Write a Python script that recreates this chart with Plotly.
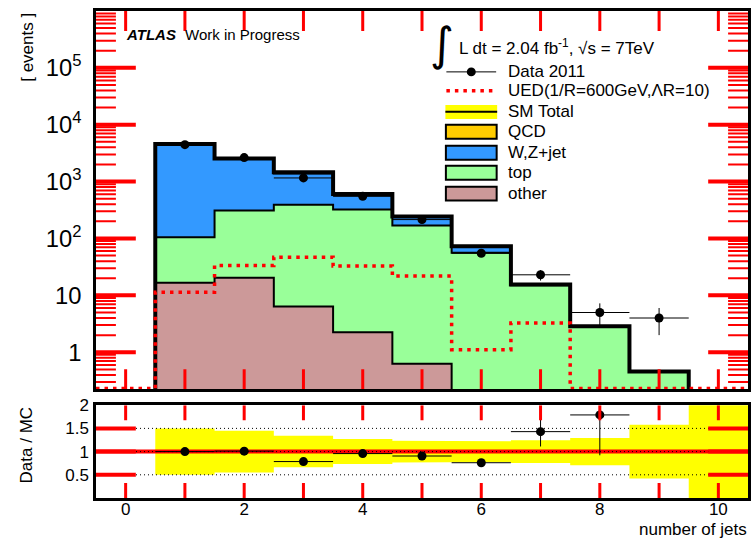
import numpy as np
import plotly.graph_objects as go

# ---------------- data ----------------
bin_centers = [0, 1, 2, 3, 4, 5, 6, 7, 8, 9, 10]
other = [0, 16.7, 20.4, 6.4, 2.24, 0.63, 0, 0, 0, 0, 0]
top = [0, 88, 290, 384, 320, 168, 56, 15.0, 2.8, 0.45, 0]
wzjet = [0, 4470, 2250, 1000, 286, 74, 17, 0.6, 0.06, 0.01, 0]
qcd = [0, 0, 0, 65, 0, 0, 0, 0, 0, 0, 0]
ued = [0, 11.3, 33.6, 47, 32.7, 21.8, 1.11, 3.27, 0, 0, 0]

data_x = [1, 2, 3, 4, 5, 6, 7, 8, 9]
data_y = [4460, 2640, 1160, 551, 215, 55, 23, 5, 4]

ratio_x = [1, 2, 3, 4, 5, 6, 7, 8]
ratio_y = [1.0, 1.01, 0.785, 0.957, 0.905, 0.76, 1.43, 1.79]
ratio_err_up = [0.03, 0.03, 0.03, 0.03, 0.03, 0.04, 0.32, 0.05]
ratio_err_dn = [0.03, 0.03, 0.04, 0.03, 0.03, 0.04, 0.32, 0.87]
band_half = [0, 0.50, 0.45, 0.34, 0.27, 0.235, 0.225, 0.245, 0.295, 0.58, 1.5]
ratio_grid = [0.5, 1.0, 1.5]

x_ticks = list(range(0, 11))
x_minor_ticks = [k + 0.5 for k in range(-1, 11)]
x_ticktext = ["0", "", "2", "", "4", "", "6", "", "8", "", "10"]
main_major_ticks = [1, 10, 100, 1e3, 1e4, 1e5]
main_minor_ticks = [k * 10.0 ** n for n in range(-1, 6) for k in range(2, 10)]
ratio_ticks = [0.5, 1, 1.5, 2]
ratio_ticktext = ["0.5", "1", "1.5", "2"]

c_qcd = "#ffcc00"
c_wz = "#3399ff"
c_top = "#99ff99"
c_other = "#cc9999"
c_band = "#ffff00"

FONT = "Liberation Sans, Arial, Helvetica, sans-serif"

W, H = 753, 539
ML, MR, MT, MB = 96, 2, 10, 41
PW, PH = W - ML - MR, H - MT - MB
XLO, XHI = -0.5, 10.5
YLO, YHI = np.log10(0.224), 6.0
RLO, RHI = 0.0, 2.0


def PX(px):
    return (px - ML) / PW


def PY(py):
    return (H - MB - py) / PH


MAIN_DOM = [PY(389), 1.0]
RATIO_DOM = [0.0, PY(405)]
px_per_x = PW / (XHI - XLO)
px_per_dec = PH * (MAIN_DOM[1] - MAIN_DOM[0]) / (YHI - YLO)
px_per_r = PH * (RATIO_DOM[1] - RATIO_DOM[0]) / (RHI - RLO)

centers = np.array(bin_centers, dtype=float)
lo_edges = centers - 0.5
hi_edges = centers + 0.5


def step_xy(vals, first, last, floor):
    xs = [lo_edges[first]]
    ys = [floor]
    for i in range(first, last + 1):
        v = vals[i] if vals[i] > 0 else floor
        xs += [lo_edges[i], hi_edges[i]]
        ys += [v, v]
    xs.append(hi_edges[last])
    ys.append(floor)
    return xs, ys


cum_other = np.array(other, dtype=float)
cum_top = cum_other + np.array(top)
cum_wz = cum_top + np.array(wzjet)
cum_all = cum_wz + np.array(qcd)

fig = go.Figure()

FLOOR = 1e-2
layers = [(cum_all, c_qcd), (cum_wz, c_wz), (cum_top, c_top), (cum_other, c_other)]
for vals, col in layers:
    xs, ys = step_xy(vals, 1, 10, FLOOR)
    fig.add_trace(go.Scatter(x=xs, y=ys, xaxis="x2", yaxis="y2", mode="lines",
                             fill="toself", fillcolor=col,
                             line=dict(color="black", width=2), hoverinfo="skip",
                             showlegend=False))

xs, ys = step_xy(cum_all, 1, 10, FLOOR)
fig.add_trace(go.Scatter(x=xs, y=ys, xaxis="x2", yaxis="y2", mode="lines",
                         line=dict(color="black", width=4), showlegend=False))

xs, ys = step_xy(ued, 0, 10, 10 ** -0.635)
fig.add_trace(go.Scatter(x=xs[1:-1], y=ys[1:-1], xaxis="x2", yaxis="y2", mode="lines",
                         line=dict(color="red", width=3.5, dash="3.5px,5px"),
                         showlegend=False))

fig.add_trace(go.Scatter(x=data_x, y=data_y, xaxis="x2", yaxis="y2", mode="markers",
                         marker=dict(color="black", size=9),
                         error_y=dict(type="data", array=list(np.sqrt(data_y)),
                                      color="black", thickness=1, width=0),
                         error_x=dict(type="constant", value=0.5, color="black",
                                      thickness=1, width=0),
                         showlegend=False))

ux, uy = [], []
for i in range(1, 11):
    ux += [lo_edges[i], hi_edges[i]]
    uy += [1 + band_half[i], 1 + band_half[i]]
lx, ly = [], []
for i in range(10, 0, -1):
    lx += [hi_edges[i], lo_edges[i]]
    ly += [1 - band_half[i], 1 - band_half[i]]
fig.add_trace(go.Scatter(x=ux + lx, y=uy + ly, mode="lines", fill="toself",
                         fillcolor=c_band, line=dict(width=0, color=c_band),
                         showlegend=False))
fig.add_trace(go.Scatter(x=[XLO, XHI], y=[1, 1], mode="lines",
                         line=dict(color="red", width=4), showlegend=False))
for g in ratio_grid:
    fig.add_trace(go.Scatter(x=[XLO, XHI], y=[g, g], mode="lines",
                             line=dict(color="black", width=1, dash="1px,3px"),
                             showlegend=False))
fig.add_trace(go.Scatter(x=ratio_x, y=ratio_y, mode="markers",
                         marker=dict(color="black", size=9),
                         error_y=dict(type="data", array=ratio_err_up,
                                      arrayminus=ratio_err_dn, symmetric=False,
                                      color="black", thickness=1, width=0),
                         error_x=dict(type="constant", value=0.5, color="black",
                                      thickness=1, width=0),
                         showlegend=False))


def side_ticks(vals, len_px, lo, hi, vmin, vmax):
    d = len_px / px_per_x
    xs, ys = [], []
    for v in vals:
        if vmin < v < vmax:
            xs += [lo, lo + d, None, hi - d, hi, None]
            ys += [v, v, None, v, v, None]
    return xs, ys


def tb_ticks_log(vals, len_px):
    d = len_px / px_per_dec
    xs, ys = [], []
    for v in vals:
        if XLO < v < XHI:
            xs += [v, v, None, v, v, None]
            ys += [10 ** YLO, 10 ** (YLO + d), None, 10 ** (YHI - d), 10 ** YHI, None]
    return xs, ys


def tb_ticks_lin(vals, len_px):
    d = len_px / px_per_r
    xs, ys = [], []
    for v in vals:
        if XLO < v < XHI:
            xs += [v, v, None, v, v, None]
            ys += [RLO, RLO + d, None, RHI - d, RHI, None]
    return xs, ys


# diagnostic: exaggerated red ticks
tick_specs = [
    (side_ticks(main_major_ticks, 40, XLO, XHI, 10 ** YLO, 10 ** YHI), "x2", "y2", 4),
    (side_ticks(main_minor_ticks, 20, XLO, XHI, 10 ** YLO, 10 ** YHI), "x2", "y2", 2),
    (tb_ticks_log(x_ticks, 20), "x2", "y2", 3),
    (side_ticks(ratio_ticks, 40, XLO, XHI, RLO, RHI), "x", "y", 4),
    (tb_ticks_lin(x_ticks, 15), "x", "y", 3),
]
for (txs, tys), xa, ya, lw in tick_specs:
    fig.add_trace(go.Scatter(x=txs, y=tys, xaxis=xa, yaxis=ya, mode="lines",
                             line=dict(color="red", width=lw), hoverinfo="skip",
                             showlegend=False))

axis_common = dict(showline=True, linecolor="black", mirror=True, ticks="",
                   zeroline=False, showgrid=False)

fig.update_layout(
    width=W, height=H, margin=dict(l=ML, r=MR, t=MT, b=MB),
    paper_bgcolor="white", plot_bgcolor="white",
    font=dict(family=FONT, color="black"),
    xaxis=dict(**axis_common, range=[XLO, XHI], anchor="y", linewidth=2.5,
               tickmode="array", tickvals=x_ticks, ticktext=x_ticktext,
               tickfont=dict(size=17), ticklabelstandoff=-6),
    yaxis=dict(**axis_common, range=[RLO, RHI], domain=RATIO_DOM, anchor="x",
               linewidth=2.5, tickmode="array", tickvals=ratio_ticks,
               ticktext=ratio_ticktext, tickfont=dict(size=17), ticklabelstandoff=1),
    xaxis2=dict(**axis_common, range=[XLO, XHI], anchor="y2", matches="x",
                linewidth=2.5, showticklabels=False),
    yaxis2=dict(**axis_common, type="log", range=[YLO, YHI - 0.001],
                domain=MAIN_DOM, anchor="x2", linewidth=2.5,
                tickmode="linear", tick0=0, dtick=1, exponentformat="power",
                tickfont=dict(size=19), ticklabelstandoff=8),
)

ann = []
shapes = []
ann.append(dict(text="[ events ]", xref="paper", yref="paper", x=PX(27), y=PY(10),
                xanchor="center", yanchor="top", textangle=-90, showarrow=False,
                font=dict(size=17)))
ann.append(dict(text="Data / MC", xref="paper", yref="paper", x=PX(26), y=PY(445),
                xanchor="center", yanchor="middle", textangle=-90, showarrow=False,
                font=dict(size=17)))
ann.append(dict(text="number of jets", xref="paper", yref="paper", x=PX(752), y=PY(530),
                xanchor="right", yanchor="middle", showarrow=False, font=dict(size=17)))
ann.append(dict(text="<b><i>ATLAS</i></b>", xref="paper", yref="paper", x=PX(124), y=PY(34),
                xanchor="left", yanchor="middle", showarrow=False, font=dict(size=15)))
ann.append(dict(text="Work in Progress", xref="paper", yref="paper", x=PX(183), y=PY(34),
                xanchor="left", yanchor="middle", showarrow=False, font=dict(size=15)))
ann.append(dict(text="∫", xref="paper", yref="paper", x=PX(444), y=PY(43),
                xanchor="center", yanchor="middle", showarrow=False,
                font=dict(size=46, family="DejaVu Sans")))
ann.append(dict(text="L dt = 2.04 fb<sup>-1</sup>, √s = 7TeV", xref="paper", yref="paper",
                x=PX(459), y=PY(46), xanchor="left", yanchor="middle", showarrow=False,
                font=dict(size=17)))

rows = [71, 90, 111, 131, 152, 172, 193]
labels = ["Data 2011", "UED(1/R=600GeV,ΛR=10)", "SM Total", "QCD", "W,Z+jet", "top", "other"]
for r, lab in zip(rows, labels):
    ann.append(dict(text=lab, xref="paper", yref="paper", x=PX(508), y=PY(r),
                    xanchor="left", yanchor="middle", showarrow=False, font=dict(size=17)))
shapes.append(dict(type="line", xref="paper", yref="paper", x0=PX(448), x1=PX(498),
                   y0=PY(71), y1=PY(71), line=dict(color="black", width=1)))
shapes.append(dict(type="circle", xref="paper", yref="paper", x0=PX(468.5), x1=PX(477.5),
                   y0=PY(75.5), y1=PY(66.5), fillcolor="black", line=dict(width=0)))
shapes.append(dict(type="line", xref="paper", yref="paper", x0=PX(448), x1=PX(497),
                   y0=PY(90), y1=PY(90), line=dict(color="red", width=3.5, dash="3.5px,5px")))
shapes.append(dict(type="rect", xref="paper", yref="paper", x0=PX(447), x1=PX(499),
                   y0=PY(118.3), y1=PY(104.3), fillcolor=c_band, line=dict(width=0)))
shapes.append(dict(type="line", xref="paper", yref="paper", x0=PX(447), x1=PX(499),
                   y0=PY(111), y1=PY(111), line=dict(color="black", width=2)))
for r, col in zip(rows[3:], [c_qcd, c_wz, c_top, c_other]):
    shapes.append(dict(type="rect", xref="paper", yref="paper", x0=PX(447.5), x1=PX(498.5),
                       y0=PY(r + 7), y1=PY(r - 7), fillcolor=col,
                       line=dict(color="black", width=2)))

fig.update_layout(annotations=ann, shapes=shapes)
fig.write_html("out.html")
